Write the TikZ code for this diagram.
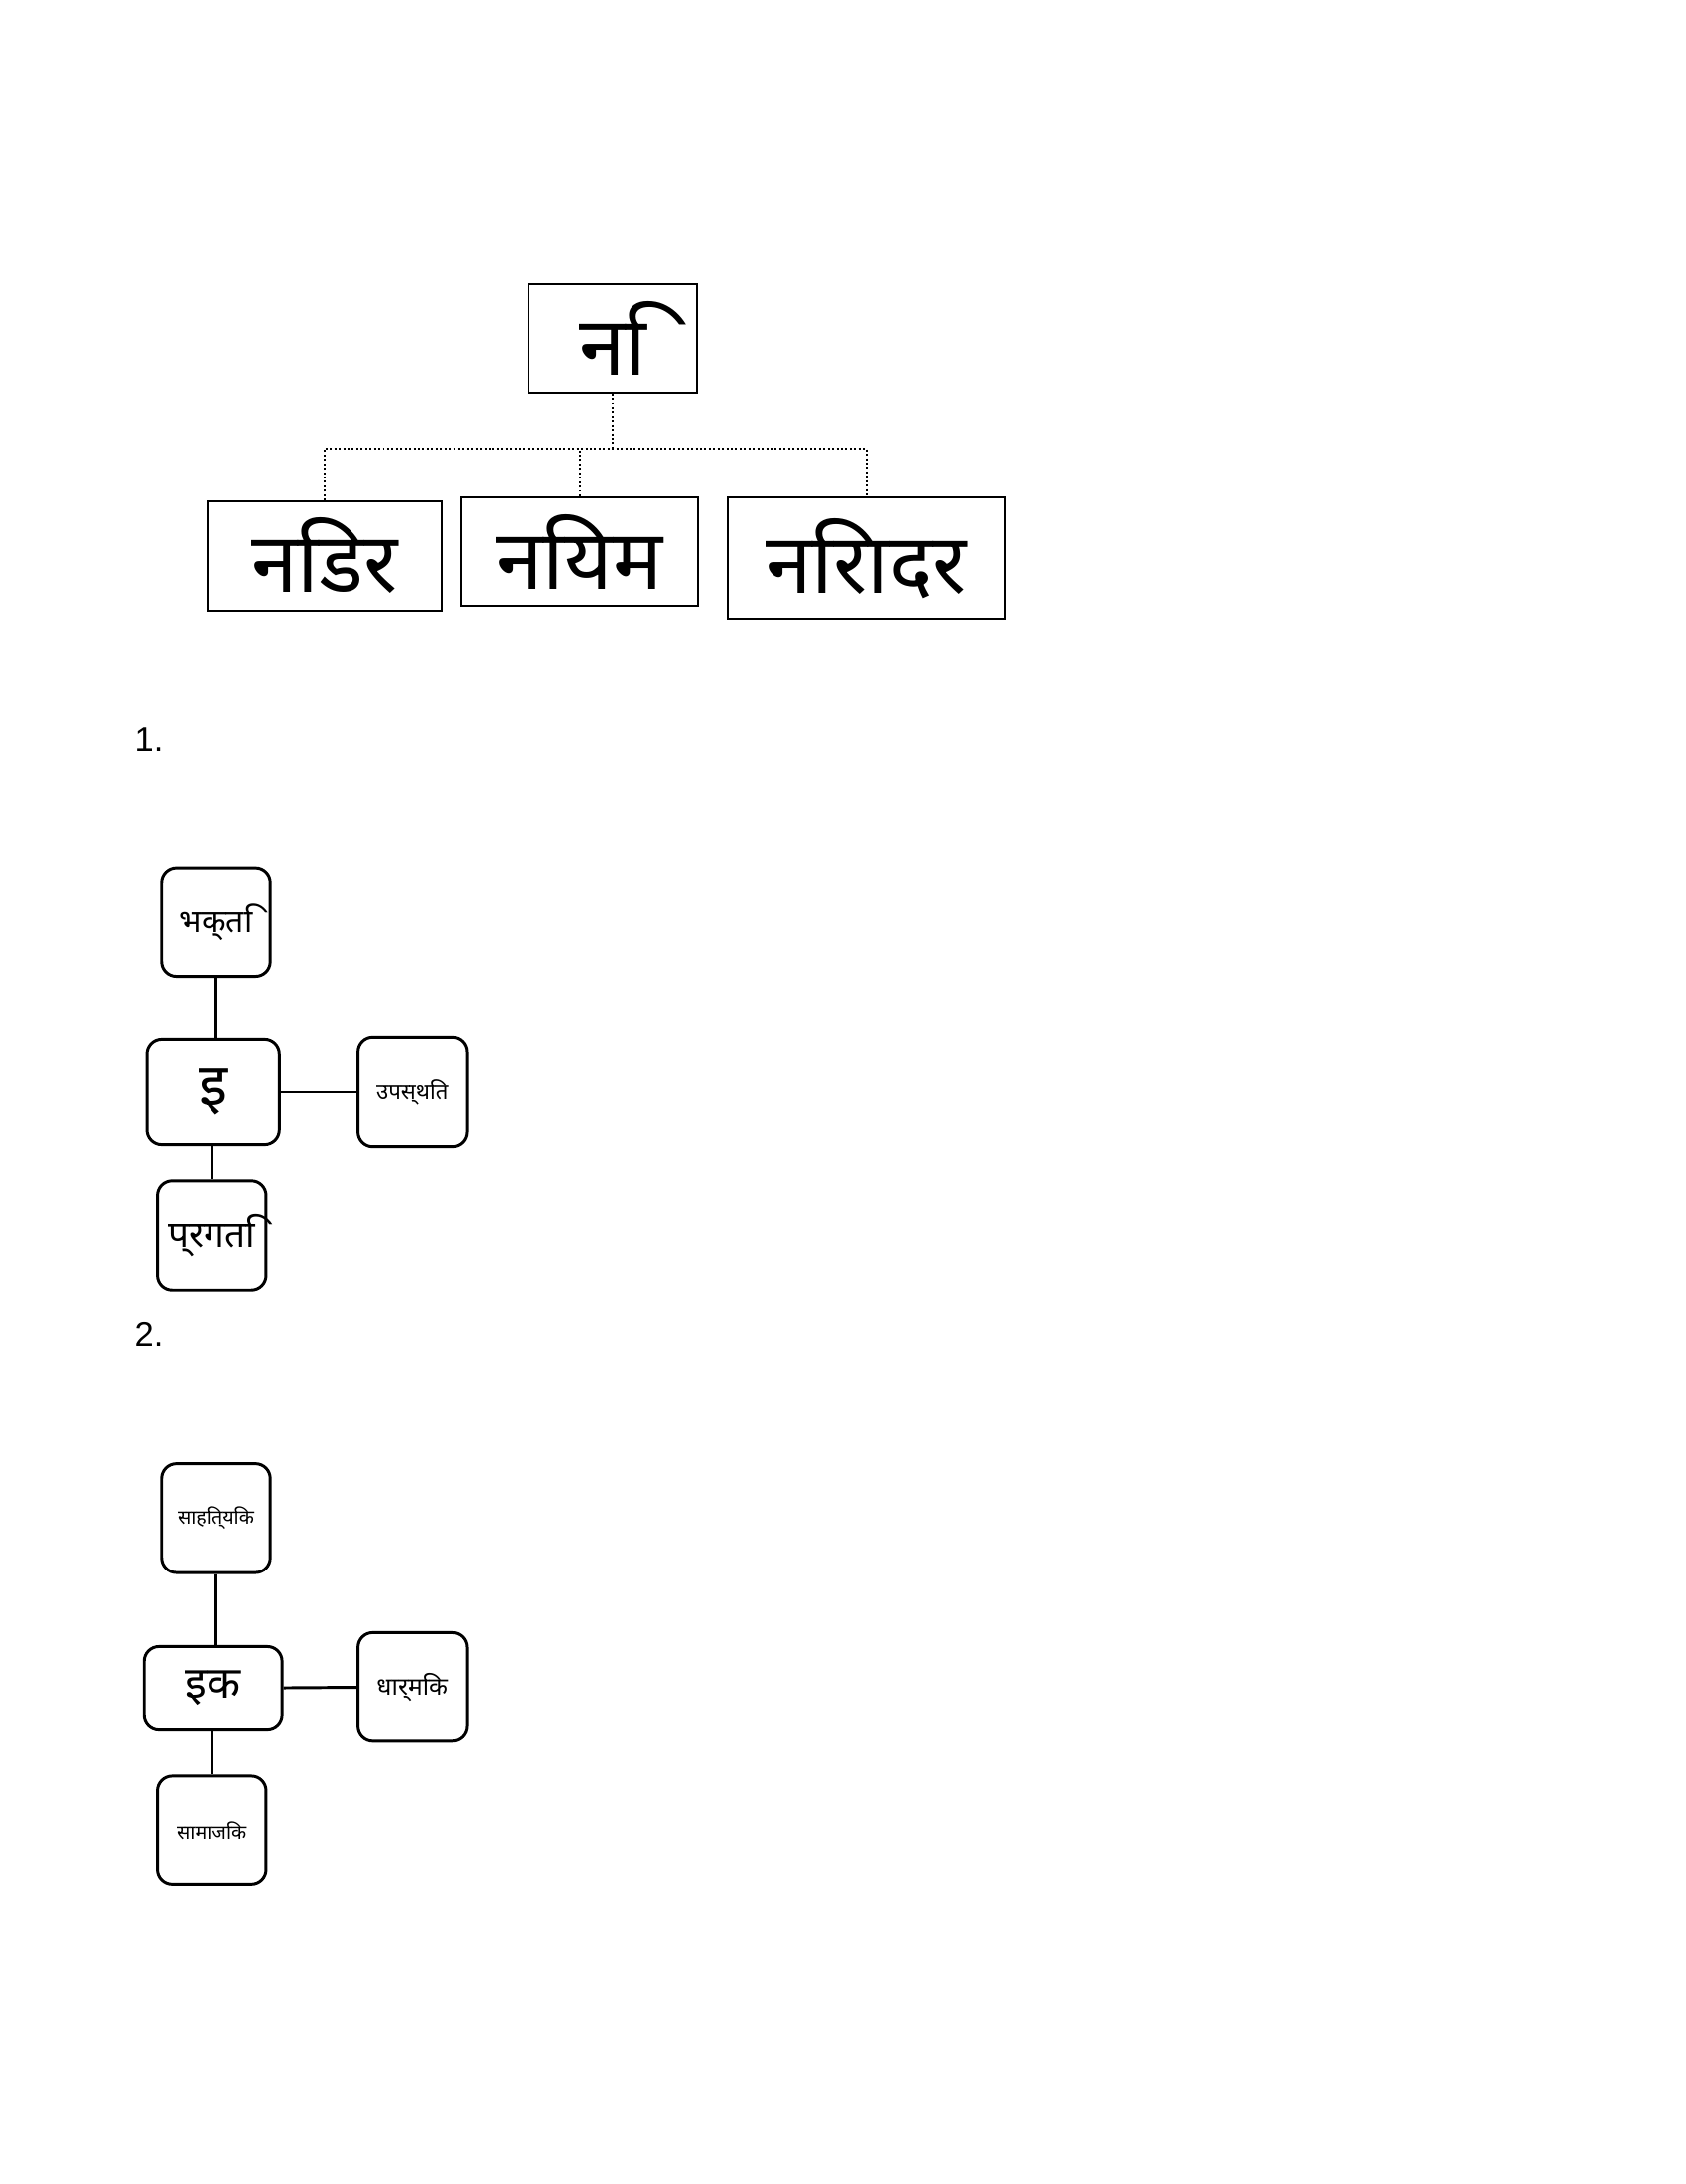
\documentclass[tikz,border=0pt]{standalone}
\usepackage{fontspec}
\setmainfont{Liberation Sans}
\newfontfamily\deva{Noto Sans}
\tikzset{
  bigbox/.style={draw, thick, minimum height=1.56cm, font=\deva\fontsize{34}{36}\selectfont},
  rbox/.style={draw, very thick, rounded corners=6pt, minimum width=1.56cm, minimum height=1.56cm, inner sep=1pt},
  dots/.style={thick, densely dotted},
  link/.style={very thick}
}
\begin{document}
\begin{tikzpicture}[x=0.02cm,y=-0.02cm]
  \useasboundingbox (0,0) rectangle (1210,1568);
  % top tree
  \node[bigbox, minimum width=2.42cm] (ni) at (440,243) {नि};
  \node[bigbox, minimum width=3.36cm] (nidar) at (233,399) {निडर};
  \node[bigbox, minimum width=3.4cm] (niyam) at (416,396) {नियम};
  \node[bigbox, minimum width=3.98cm, minimum height=1.76cm] (niradar) at (622,401) {निरादर};
  \coordinate (jn) at (440,322);
  \draw[dots] (ni.south) -- (jn);
  \draw[dots] (nidar.north) |- (jn) -| (niradar.north);
  \draw[dots] (niyam.north) -- (niyam.north |- jn);
  % labels
  \node[font=\fontsize{14}{16}\selectfont] (one) at (107,531) {1.};
  \node[font=\fontsize{14}{16}\selectfont] (two) at (107,958) {2.};
  % first cross
  \node[rbox, font=\deva\fontsize{13}{15}\selectfont] (bhakti) at (155,662) {भक्ति};
  \node[rbox, minimum width=1.9cm, minimum height=1.5cm, font=\deva\fontsize{24}{26}\selectfont] (i) at (153,784) {इ};
  \node[rbox, font=\deva\fontsize{9}{11}\selectfont] (upasthit) at (296,784) {उपस्थित};
  \node[rbox, font=\deva\fontsize{15}{17}\selectfont] (pragati) at (152,887) {प्रगति};
  \draw[link] (bhakti) -- (bhakti |- i.north);
  \draw[link] (i) -- (upasthit);
  \draw[link] (pragati) -- (pragati |- i.south);
  % second cross
  \node[rbox, font=\deva\fontsize{8}{10}\selectfont] (sahityik) at (155,1090) {साहित्यिक};
  \node[rbox, minimum width=1.98cm, minimum height=1.2cm, font=\deva\fontsize{18}{20}\selectfont] (ik) at (153,1212) {इक};
  \node[rbox, font=\deva\fontsize{10}{12}\selectfont] (dharmik) at (296,1211) {धार्मिक};
  \node[rbox, font=\deva\fontsize{8}{10}\selectfont] (samajik) at (152,1314) {सामाजिक};
  \draw[link] (sahityik) -- (sahityik |- ik.north);
  \draw[link] (ik) -- (dharmik);
  \draw[link] (samajik) -- (samajik |- ik.south);
\end{tikzpicture}
\end{document}
